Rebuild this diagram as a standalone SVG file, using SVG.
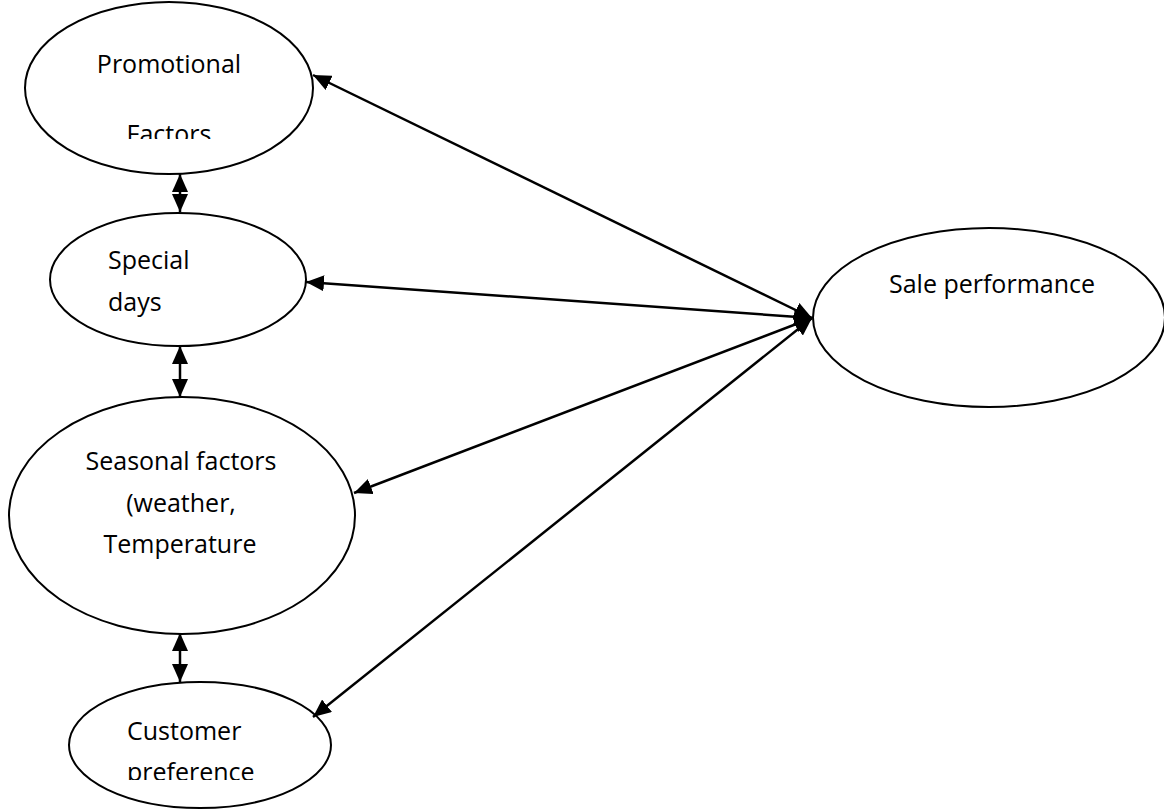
<svg xmlns="http://www.w3.org/2000/svg" width="1164" height="809" viewBox="0 0 1164 809">
<style>
.node ellipse{fill:#fff;stroke:#000;stroke-width:2}
.node text{font-family:"Open Sans","Liberation Sans",sans-serif;font-size:25px;fill:#000}
.c{text-anchor:middle}
#connectors line{stroke:#000;stroke-width:2.5;marker-start:url(#ah);marker-end:url(#ah)}
</style>
<defs>
<marker id="ah" markerUnits="userSpaceOnUse" markerWidth="18" markerHeight="16" refX="18" refY="8" orient="auto-start-reverse" viewBox="0 0 18 16">
<path d="M0,0 L18,8 L0,16 z" fill="#000"/>
</marker>
<clipPath id="clipF"><rect x="0" y="0" width="400" height="139"/></clipPath>
<clipPath id="clipP"><rect x="0" y="600" width="400" height="180"/></clipPath>
</defs>
<rect width="1164" height="809" fill="#fff"/>
<g id="promotional" class="node">
<ellipse cx="169" cy="88" rx="144" ry="86"/>
<text class="c" x="169" y="73">Promotional</text>
<text class="c" x="169" y="143" clip-path="url(#clipF)">Factors</text>
</g>
<g id="special" class="node">
<ellipse cx="178" cy="279.5" rx="128" ry="66.5"/>
<text x="108" y="269">Special</text>
<text x="108" y="311">days</text>
</g>
<g id="seasonal" class="node">
<ellipse cx="182" cy="515.5" rx="173" ry="118.5"/>
<text class="c" x="181" y="470">Seasonal factors</text>
<text class="c" x="181" y="512">(weather,</text>
<text class="c" x="180" y="553">Temperature</text>
</g>
<g id="customer" class="node">
<ellipse cx="200" cy="745" rx="131" ry="63"/>
<text x="127" y="740">Customer</text>
<text x="127" y="781" clip-path="url(#clipP)">preference</text>
</g>
<g id="sale" class="node">
<ellipse cx="989" cy="317.5" rx="176" ry="89.5"/>
<text class="c" x="992" y="293">Sale performance</text>
</g>
<g id="connectors">
<line x1="180" y1="174" x2="180" y2="212"/>
<line x1="180" y1="346" x2="180" y2="397"/>
<line x1="180" y1="633" x2="180" y2="682"/>
<line x1="812" y1="318" x2="313" y2="75"/>
<line x1="812" y1="318" x2="306" y2="282"/>
<line x1="812" y1="318" x2="354" y2="493"/>
<line x1="812" y1="318" x2="313" y2="717"/>
</g>
</svg>
